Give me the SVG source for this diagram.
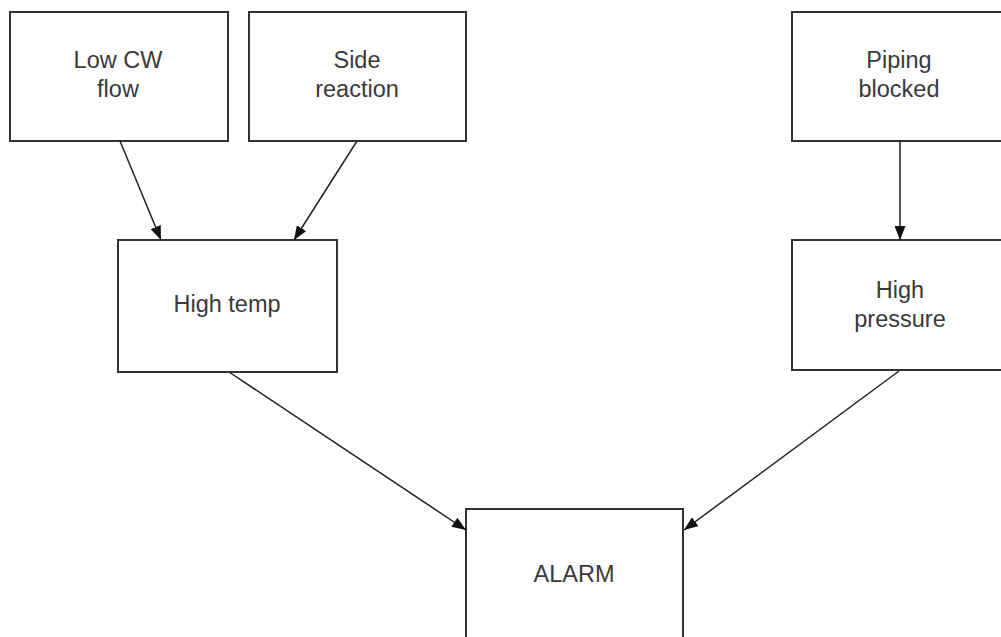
<svg xmlns="http://www.w3.org/2000/svg" width="1001" height="637" viewBox="0 0 1001 637">
<defs>
<style>
.box{fill:#fff;stroke:#333;stroke-width:2}
.lbl{font-family:"Liberation Sans",Arial,sans-serif;font-size:23.5px;fill:#3a3a3a;text-anchor:middle}
.con{stroke:#222;stroke-width:1.5;fill:none;marker-end:url(#ah)}
</style>
<marker id="ah" viewBox="0 0 14 11" refX="14" refY="5.5" markerWidth="14" markerHeight="11" markerUnits="userSpaceOnUse" orient="auto">
<path d="M0,0 L14,5.5 L0,11 Z" fill="#111"/>
</marker>
</defs>
<rect width="1001" height="637" fill="#fff"/>
<g id="lowcw"><rect class="box" x="10" y="12" width="218" height="129"/><text class="lbl" x="118" y="68">Low CW</text><text class="lbl" x="118" y="97">flow</text></g>
<g id="side"><rect class="box" x="249" y="12" width="217" height="129"/><text class="lbl" x="357" y="68">Side</text><text class="lbl" x="357" y="97">reaction</text></g>
<g id="piping"><rect class="box" x="792" y="12" width="216" height="129"/><text class="lbl" x="899" y="68">Piping</text><text class="lbl" x="899" y="97">blocked</text></g>
<g id="hightemp"><rect class="box" x="118" y="240" width="219" height="132"/><text class="lbl" x="227" y="312">High temp</text></g>
<g id="highpressure"><rect class="box" x="792" y="240" width="216" height="130"/><text class="lbl" x="900" y="298">High</text><text class="lbl" x="900" y="327">pressure</text></g>
<g id="alarm"><rect class="box" x="466" y="509" width="217" height="140"/><text class="lbl" x="574" y="582">ALARM</text></g>
<g id="connectors">
<line class="con" x1="120" y1="141" x2="161" y2="240"/>
<line class="con" x1="357" y1="141" x2="294" y2="240"/>
<line class="con" x1="900" y1="141" x2="900" y2="240"/>
<line class="con" x1="229" y1="372" x2="466" y2="530"/>
<line class="con" x1="899" y1="371" x2="684" y2="530"/>
</g>
</svg>
